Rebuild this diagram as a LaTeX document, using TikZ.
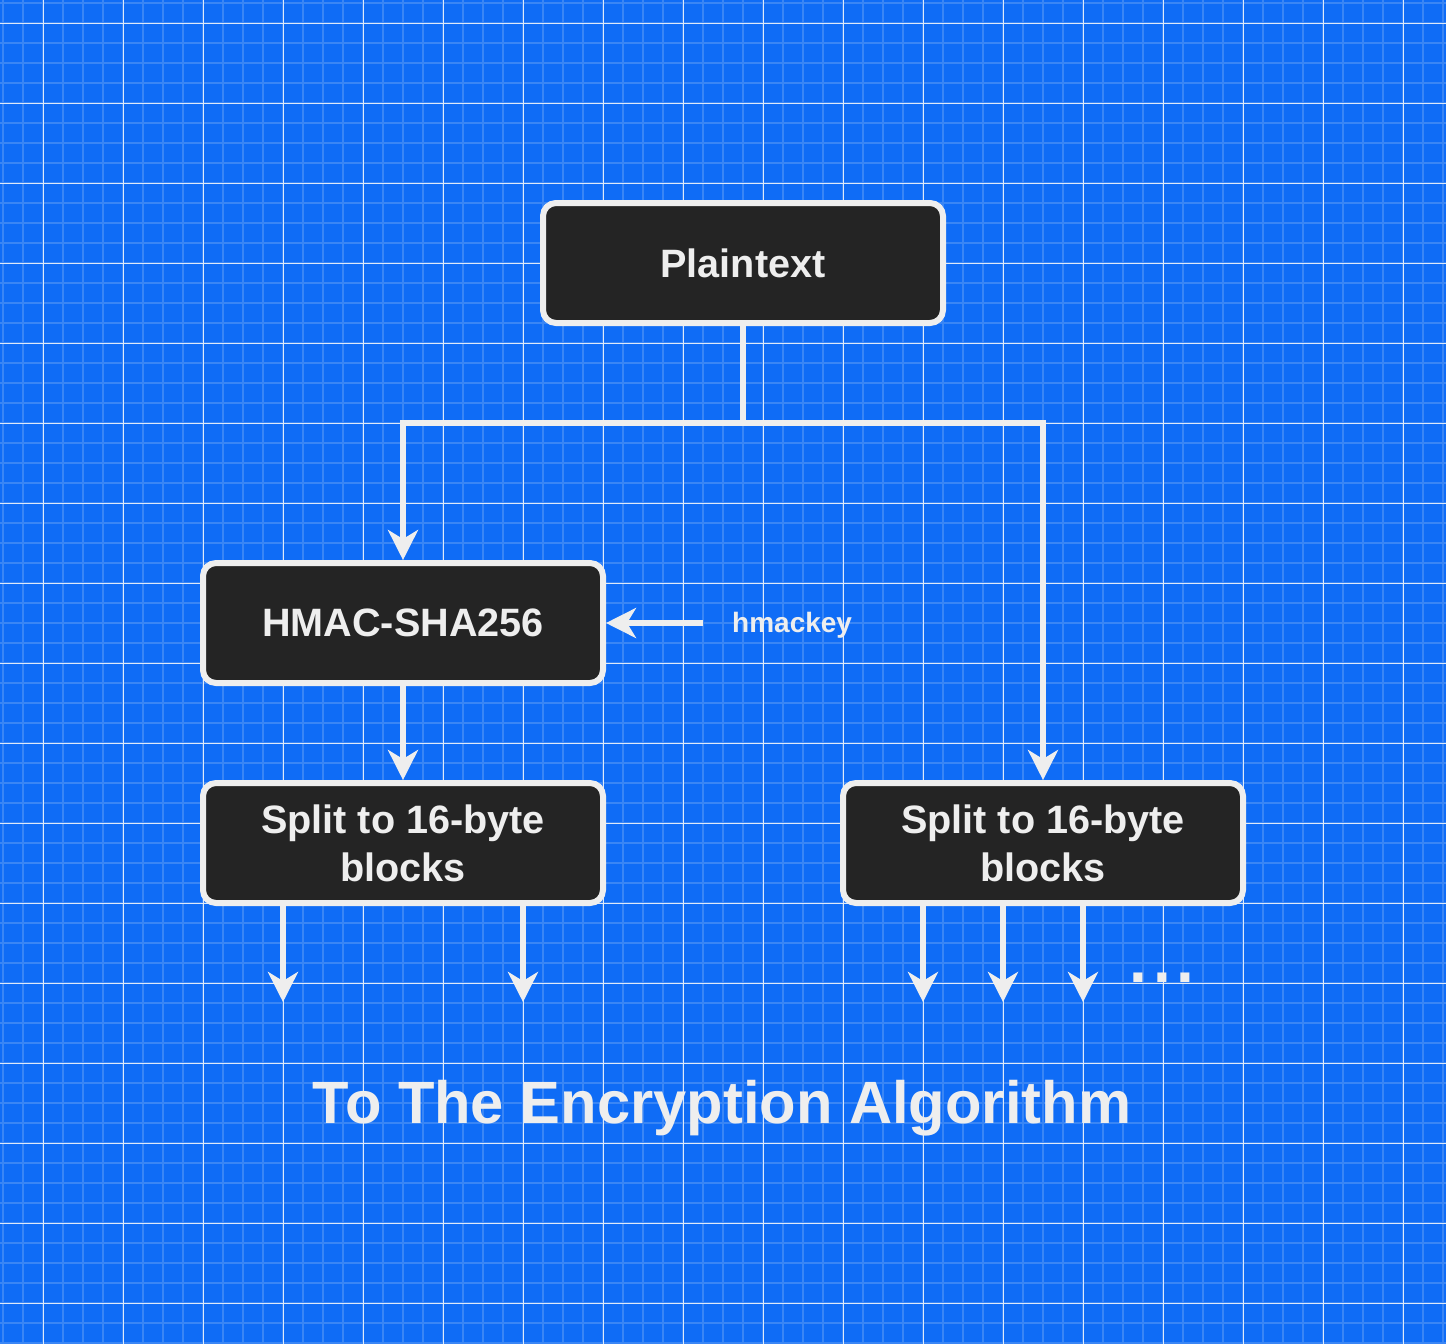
\documentclass[tikz,border=0pt]{standalone}
\usepackage{fontspec}
\setmainfont{Liberation Sans}
\usetikzlibrary{arrows.meta}
\definecolor{bg}{RGB}{15,108,246}
\definecolor{minorc}{RGB}{58,134,245}
\definecolor{majorc}{RGB}{222,233,250}
\definecolor{boxfill}{RGB}{36,36,36}
\definecolor{ink}{RGB}{238,238,238}
\tikzset{
 box/.style={draw=ink, fill=boxfill, line width=6pt, rounded corners=13pt, minimum width=400pt, minimum height=120pt, text=ink, font=\bfseries\fontsize{39.6}{48}\selectfont, align=center, inner sep=0pt},
 conn/.style={draw=ink, line width=5.5pt},
 arr/.style={conn, -{Stealth[length=30pt,width=30pt,inset=9pt]}},
 lbl/.style={text=ink, font=\bfseries\fontsize{28}{34}\selectfont, inner sep=0pt},
 title/.style={text=ink, font=\bfseries\fontsize{59.7}{70}\selectfont, inner sep=0pt},
}
\begin{document}
\begin{tikzpicture}[x=1pt,y=-1pt]
\fill[bg] (0,0) rectangle (1446,1344);
\useasboundingbox (0,0) rectangle (1446,1344);
\foreach \i in {0,...,72} { \draw[minorc, line width=2pt] (3+20*\i,0) -- (3+20*\i,1344); }
\foreach \i in {0,...,67} { \draw[minorc, line width=2pt] (0,3+20*\i) -- (1446,3+20*\i); }
\foreach \i in {0,...,17} { \draw[majorc, line width=1pt] (43+80*\i,0) -- (43+80*\i,1344); }
\foreach \i in {0,...,16} { \draw[majorc, line width=1pt] (0,23+80*\i) -- (1446,23+80*\i); }

\node[box] (P) at (743,263) {Plaintext};
\node[box] (H) at (403,623) {HMAC-SHA256};
\node[box] (SL) at (403,843) {Split to 16-byte\\blocks};
\node[box] (SR) at (1043,843) {Split to 16-byte\\blocks};
\node[lbl, anchor=base west] (K) at (732,632) {hmackey};
\node[title, anchor=base] (T) at (722,1123) {To The Encryption Algorithm};
\node[text=ink, font=\bfseries\fontsize{64}{70}\selectfont, inner sep=0pt, anchor=base] (D) at (1162,982) {.\kern6pt.\kern6pt.};

\coordinate (j) at (743,423);
\coordinate (k) at (703,623);
\coordinate (a1) at (283,1002);
\coordinate (a2) at (523,1002);
\coordinate (b1) at (923,1002);
\coordinate (b2) at (1003,1002);
\coordinate (b3) at (1083,1002);

\draw[conn] (P.south) -- (j);
\draw[arr] (j) -| (H.north);
\draw[arr] (j) -| (SR.north);
\draw[arr] (k) -- (H.east);
\draw[arr] (H.south) -- (SL.north);
\draw[arr] (SL.south -| a1) -- (a1);
\draw[arr] (SL.south -| a2) -- (a2);
\draw[arr] (SR.south -| b1) -- (b1);
\draw[arr] (SR.south -| b2) -- (b2);
\draw[arr] (SR.south -| b3) -- (b3);
\end{tikzpicture}
\end{document}
